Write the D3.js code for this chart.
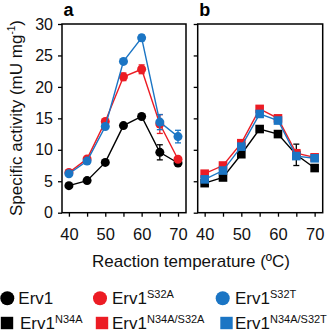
<!DOCTYPE html>
<html>
<head>
<meta charset="utf-8">
<script src="https://d3js.org/d3.v7.min.js"></script>
<style>
  body { margin: 0; background: #fff; }
  svg { font-family: "Liberation Sans", Arial, sans-serif; }
</style>
</head>
<body>
<svg id="chart" width="331" height="333"></svg>
<script>
// temperatures (ºC)
const temps = [40, 45, 50, 55, 60, 65, 70];
const yTicks = [0, 5, 10, 15, 20, 25, 30];
const xTickLabels = [40, 50, 60, 70];

// panel a (circles)
const erv1 = [4.3, 5.1, 8.0, 13.85, 15.3, 9.6, 7.9];
const erv1Err = [0.2, 0.2, 0.2, 0.2, 0.3, 1.2, 0.3];
const s32a = [6.4, 8.55, 14.5, 21.6, 22.8, 14.1, 8.5];
const s32aErr = [0.2, 0.3, 0.3, 0.6, 0.7, 1.5, 0.3];
const s32t = [6.2, 8.2, 13.7, 24.05, 27.8, 14.4, 12.1];
const s32tErr = [0.2, 0.3, 0.3, 0.3, 0.5, 1.2, 1.0];

// panel b (squares)
const n34a = [4.7, 5.6, 9.3, 13.3, 12.5, 9.2, 7.1];
const n34aErr = [0.2, 0.2, 0.3, 0.3, 0.3, 1.7, 0.3];
const n34aS32a = [6.2, 7.5, 11.05, 16.5, 15.0, 9.45, 8.8];
const n34aS32aErr = [0.2, 0.2, 0.3, 0.3, 0.3, 0.3, 0.3];
const n34aS32t = [5.3, 6.7, 10.5, 15.7, 14.65, 9.0, 8.65];
const n34aS32tErr = [0.2, 0.2, 0.3, 0.3, 0.3, 0.3, 0.3];

const black = "#000000", red = "#ec1c24", blue = "#1b75c4";

const svg = d3.select("#chart");
const plotTop = 24, plotBottom = 212.7;
const y = d3.scaleLinear().domain([0, 30]).range([plotBottom, plotTop]);

function panel(left, right, label, series, shape, showY) {
  const x = d3.scaleLinear().domain([38.1, 72.2]).range([left, right]);
  const g = svg.append("g");

  // frame
  g.append("rect").attr("x", left).attr("y", plotTop)
    .attr("width", right - left).attr("height", plotBottom - plotTop)
    .attr("fill", "none").attr("stroke", "#000").attr("stroke-width", 1.5);

  // y ticks
  const yAx = g.append("g").attr("transform", `translate(${left},0)`)
    .call(d3.axisLeft(y).tickValues(yTicks).tickSize(4).tickPadding(5)
      .tickFormat(showY ? d3.format("d") : ""));
  yAx.select(".domain").remove();
  yAx.selectAll("line").attr("stroke-width", 1.3);
  yAx.selectAll("text").attr("font-size", 16).attr("font-family", "Liberation Sans, Arial, sans-serif")
    .attr("fill", "#111");

  // x ticks
  const xAx = g.append("g").attr("transform", `translate(0,${plotBottom})`)
    .call(d3.axisBottom(x).tickValues(temps).tickSize(4)
      .tickFormat(d => xTickLabels.includes(d) ? d : ""));
  xAx.select(".domain").remove();
  xAx.selectAll("line").attr("stroke-width", 1.3);
  xAx.selectAll("text").attr("font-size", 16.5).attr("font-family", "Liberation Sans, Arial, sans-serif")
    .attr("fill", "#111").attr("y", 27.5).attr("dy", 0);

  g.append("text").attr("x", left + 1.5).attr("y", 16).text(label)
    .attr("font-size", 18).attr("font-weight", "bold");

  const line = d3.line().x((d, i) => x(temps[i])).y(d => y(d));

  series.forEach(s => {
    g.append("path").datum(s.vals).attr("d", line)
      .attr("fill", "none").attr("stroke", s.color).attr("stroke-width", 1.4);
    // error bars
    s.vals.forEach((v, i) => {
      const e = s.err[i];
      const cx = x(temps[i]);
      g.append("line").attr("x1", cx).attr("x2", cx).attr("y1", y(v - e)).attr("y2", y(v + e))
        .attr("stroke", s.color).attr("stroke-width", 1.3);
      [v - e, v + e].forEach(w => g.append("line")
        .attr("x1", cx - 3).attr("x2", cx + 3).attr("y1", y(w)).attr("y2", y(w))
        .attr("stroke", s.color).attr("stroke-width", 1.3));
    });
    if (shape === "circle") {
      g.selectAll(null).data(s.vals).join("circle")
        .attr("cx", (d, i) => x(temps[i])).attr("cy", d => y(d)).attr("r", 4.5)
        .attr("fill", s.color);
    } else {
      g.selectAll(null).data(s.vals).join("rect")
        .attr("x", (d, i) => x(temps[i]) - 4.3).attr("y", d => y(d) - 4.3)
        .attr("width", 8.6).attr("height", 8.6).attr("fill", s.color);
    }
  });
}

panel(62, 186, "a", [
  { vals: erv1, err: erv1Err, color: black },
  { vals: s32a, err: s32aErr, color: red },
  { vals: s32t, err: s32tErr, color: blue }
], "circle", true);

panel(197.7, 322.7, "b", [
  { vals: n34a, err: n34aErr, color: black },
  { vals: n34aS32a, err: n34aS32aErr, color: red },
  { vals: n34aS32t, err: n34aS32tErr, color: blue }
], "square", false);

// y axis title
const yt = svg.append("text").attr("transform", "translate(22,118) rotate(-90)")
  .attr("text-anchor", "middle").attr("font-size", 17).attr("fill", "#111");
yt.append("tspan").text("Specific activity (mU mg");
yt.append("tspan").text("-1").attr("font-size", 10).attr("dy", -7);
yt.append("tspan").text(")").attr("dy", 7);

// x axis title
svg.append("text").attr("x", 191).attr("y", 267).attr("text-anchor", "middle")
  .attr("font-size", 17).attr("fill", "#111").text("Reaction temperature (ºC)");

// legend
const legendNames = ["Erv1", "Erv1", "Erv1", "Erv1", "Erv1", "Erv1"];
const legendSups = ["", "S32A", "S32T", "N34A", "N34A/S32A", "N34A/S32T"];
const legendColors = [black, red, blue, black, red, blue];
const legendX = [7.3, 100, 222.7, 7, 102, 226.5];
const legendTextX = [18.3, 112, 235, 20, 112, 235];
const legendY = [298.3, 298.3, 298.3, 323, 323, 323];

legendNames.forEach((name, i) => {
  const cx = legendX[i], cy = legendY[i];
  if (i < 3) {
    svg.append("circle").attr("cx", cx).attr("cy", cy).attr("r", 7).attr("fill", legendColors[i]);
  } else {
    svg.append("rect").attr("x", cx - 6.2).attr("y", cy - 6.2).attr("width", 12.4).attr("height", 12.4)
      .attr("fill", legendColors[i]);
  }
  const t = svg.append("text").attr("x", legendTextX[i]).attr("y", cy + 6)
    .attr("font-size", 17).attr("fill", "#111");
  t.append("tspan").text(name);
  if (legendSups[i]) t.append("tspan").text(legendSups[i]).attr("font-size", 11).attr("dy", -6.5);
});
</script>
</body>
</html>
